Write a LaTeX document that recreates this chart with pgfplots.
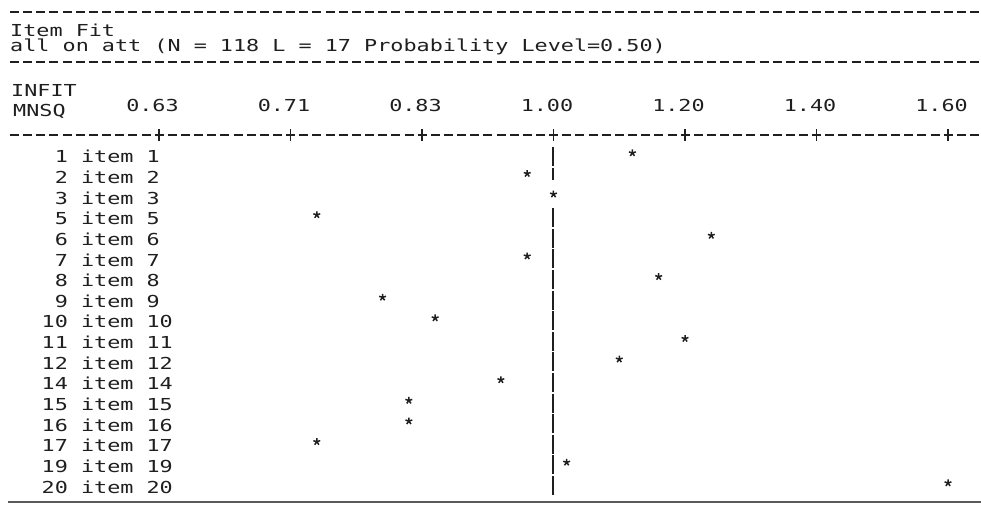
\documentclass[border=0pt]{standalone}
\usepackage{pgfplots}
\pgfplotsset{compat=1.18}
\usepackage{fontspec}
\setmonofont[FakeStretch=1.32]{DejaVu Sans Mono}
\newcommand\cf{\ttfamily\fontsize{16.5}{19}\selectfont}
\definecolor{ink}{gray}{0.12}
\tikzset{txtdash/.style={ink, line width=2pt, dash pattern=on 9pt off 4.15pt}}
% star positions in scale units (0 = 0.63, 1 = 0.71, 2 = 0.83, 3 = 1.00, 4 = 1.20, 5 = 1.40, 6 = 1.60); y = -row
\pgfplotstableread{
x y
3.6 -1
2.8 -2
3.0 -3
1.2 -4
4.2 -5
2.8 -6
3.8 -7
1.7 -8
2.1 -9
4.0 -10
3.5 -11
2.6 -12
1.9 -13
1.9 -14
1.2 -15
3.1 -16
6.0 -17
}\infit
\begin{document}
\begin{tikzpicture}[x=1pt,y=1pt]
\useasboundingbox (0,0) rectangle (981,504);
\draw[txtdash] (10,492) -- (981,492);
\node[anchor=base west, inner sep=0, font=\cf, text=ink] at (10,467) {Item Fit};
\node[anchor=base west, inner sep=0, font=\cf, text=ink] at (10,452) {all on att (N = 118 L = 17 Probability Level=0.50)};
\draw[txtdash] (10,442) -- (981,442);
\node[anchor=base west, inner sep=0, font=\cf, text=ink] at (11,407) {INFIT};
\node[anchor=base west, inner sep=0, font=\cf, text=ink] at (13,387) {MNSQ};
\draw[txtdash] (10,369) -- (981,369);
\draw[black!65, line width=2pt] (8,2) -- (981,2);
\begin{axis}[at={(10pt,2pt)}, anchor=south west, scale only axis,
  width=971pt, height=367pt,
  xmin=-1.133, xmax=6.251, ymin=-17.776, ymax=0.018,
  axis line style={draw=none}, clip=false,
  xtick={0,...,6}, xticklabels={0.63,0.71,0.83,1.00,1.20,1.40,1.60},
  xtick pos=right, xticklabel pos=right,
  tick align=center, major tick length=11pt,
  xtick style={ink, line width=1.8pt},
  xticklabel style={font=\cf, text=ink, anchor=base, inner sep=0pt, xshift=-6.5pt, yshift=18pt},
  ytick={-17,...,-1},
  yticklabels={20 item 20,19 item 19,17 item 17,16 item 16,15 item 15,14 item 14,12 item 12,11 item 11,10 item 10,\hphantom{0}9 item 9,\hphantom{0}8 item 8,\hphantom{0}7 item 7,\hphantom{0}6 item 6,\hphantom{0}5 item 5,\hphantom{0}3 item 3,\hphantom{0}2 item 2,\hphantom{0}1 item 1},
  ytick style={draw=none},
  yticklabel style={font=\cf, text=ink, anchor=base west, inner sep=0pt, xshift=37pt, yshift=-7pt},
  /pgf/number format/assume math mode=true,
]
\addplot[ink, line width=2pt, dash pattern=on 19pt off 1.6pt] coordinates {(3,-0.564) (3,-2.16)};
\addplot[ink, line width=2pt, dash pattern=on 19pt off 1.6pt] coordinates {(3,-3.53) (3,-17.44)};
\addplot[only marks, mark=star, mark size=3.6pt, ink, line width=1.5pt, mark options={yshift=3pt}] table[x=x, y=y] {\infit};
\end{axis}
\end{tikzpicture}
\end{document}
